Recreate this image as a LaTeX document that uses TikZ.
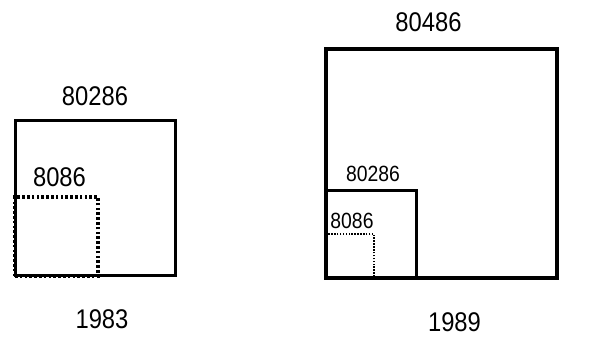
\documentclass[tikz,border=0pt]{standalone}
\usepackage{fontspec}
\setmainfont{Liberation Sans}[FakeStretch=0.88]
\usetikzlibrary{positioning}

\begin{document}
\begin{tikzpicture}[
  x=1pt, y=1pt,
  chip/.style={draw=black, line width=3pt, inner sep=0pt, outer sep=0pt,
               anchor=south west},
  dotbox/.style={chip, dash pattern=on 2.6pt off 2.2pt},
  lbl/.style={font=\fontsize{27}{27}\selectfont, inner sep=0pt},
  lbls/.style={font=\fontsize{22}{22}\selectfont, inner sep=0pt},
]
\useasboundingbox (0,0) rectangle (590,339);

% ---------------- 1983 ----------------
\node[chip, minimum width=160pt, minimum height=155pt] (a286) at (15,63) {};
\node[dotbox, line width=3.2pt, minimum width=83pt, minimum height=79pt] (a86) at (15,63) {};
\node[lbl, above=15pt of a286] (a286t) {80286};
\node[lbl, above=10pt of a86, xshift=3pt] (a86t) {8086};
\node[lbl, below=33pt of a286, xshift=7pt] (ayear) {1983};

% ---------------- 1989 ----------------
\node[chip, line width=4pt, minimum width=231pt, minimum height=229pt] (b486) at (326,61) {};
\node[chip, line width=3pt, minimum width=90pt, minimum height=87pt] (b286) at (326,61) {};
\node[dotbox, line width=1.8pt, dash pattern=on 1.5pt off 1.4pt,
      minimum width=48pt, minimum height=44pt] (b86) at (326,61) {};
\node[lbl, above=17pt of b486, xshift=-13pt] (b486t) {80486};
\node[lbls, above=9pt of b286, xshift=2pt] (b286t) {80286};
\node[lbls, above=5pt of b86, xshift=2pt] (b86t) {8086};
\node[lbl, below=34pt of b486, xshift=13pt] (byear) {1989};

\end{tikzpicture}
\end{document}
